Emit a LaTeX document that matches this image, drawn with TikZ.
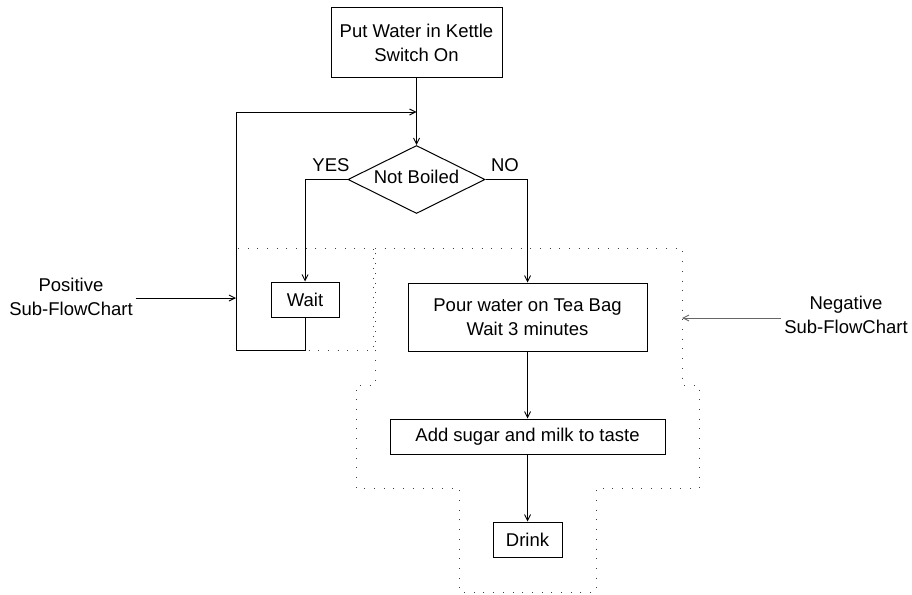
\documentclass[tikz,border=0pt]{standalone}
\usepackage{fontspec}
\setmainfont{Liberation Sans}
\usetikzlibrary{arrows.meta,shapes.geometric}
\begin{document}
\begin{tikzpicture}[x=1pt,y=-1pt,
  every node/.style={font=\fontsize{18.5}{24}\selectfont},
  box/.style={draw,line width=1pt,inner sep=0pt,align=center},
  lbl/.style={inner sep=3pt,align=center},
  arr/.style={line width=1pt,-{Straight Barb[length=6pt,width=6pt,line width=0.9pt]}},
  dotline/.style={line width=0.9pt,black!75,dash pattern=on 0.9pt off 8.8pt}]
\useasboundingbox (0,0) rectangle (912,594);
\fill[white] (0,0) rectangle (912,594);
% boxes
\node[box,minimum width=171pt,minimum height=69pt] (top) at (416.5,42.5) {Put Water in Kettle\\Switch On};
\node[box,shape=diamond,aspect=2,minimum width=137pt,minimum height=68pt] (d) at (416.5,179.5) {};
\node (dt) at (416.5,177) {Not Boiled};
\node[box,minimum width=68pt,minimum height=35pt] (wait) at (305,299.5) {Wait};
\node[box,minimum width=239pt,minimum height=68pt] (pour) at (527.5,317) {Pour water on Tea Bag\\Wait 3 minutes};
\node[box,minimum width=275pt,minimum height=35pt] (add) at (527.5,436.5) {Add sugar and milk to taste};
\node[box,minimum width=69pt,minimum height=35pt] (drink) at (527.5,539.5) {Drink};
% labels
\node (yes) at (331,165) {YES};
\node (no) at (505,165) {NO};
\node[lbl] (pos) at (71,297) {Positive\\Sub-FlowChart};
\node[lbl] (neg) at (846,315) {Negative\\Sub-FlowChart};
% coordinates
\coordinate (j) at (416.5,112);
\coordinate (lt) at (236,112);
\coordinate (lb) at (236,350);
\coordinate (pe) at (236,298);
\coordinate (ne) at (682,318);
% dotted regions
\draw[dotline] (236,248) rectangle (373,350);
\draw[dotline] (375,248) -- (682,248) -- (682,385) -- (699,385) -- (699,488) -- (596,488) -- (596,592) -- (459,592) -- (459,488) -- (356,488) -- (356,385) -- (375,385) -- cycle;
% connectors
\draw[arr] (top.south) -- (d.north);
\draw[arr] (wait.south) |- (lb) -- (lt) -- (j);
\draw[arr] (d.west) -| (wait.north);
\draw[arr] (d.east) -| (pour.north);
\draw[arr] (pour.south) -- (add.north);
\draw[arr] (add.south) -- (drink.north);
\draw[arr] (pos.east |- pe) -- (pe);
\draw[arr,black!60] (neg.west |- ne) -- (ne);
\end{tikzpicture}
\end{document}
